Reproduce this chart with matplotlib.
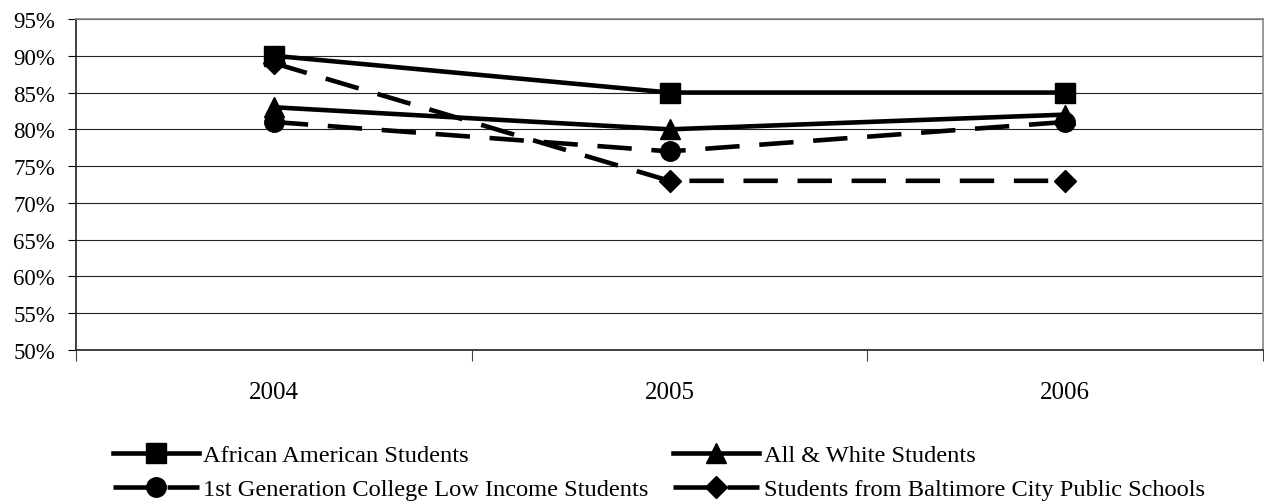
import numpy as np
import matplotlib.pyplot as plt
from matplotlib.ticker import FixedLocator, PercentFormatter

plt.rcParams['font.family'] = ['Liberation Serif', 'DejaVu Serif']

years = ["2004", "2005", "2006"]
african_american = [90, 85, 85]
all_white = [83, 80, 82]
first_gen = [81, 77, 81]
baltimore = [89, 73, 73]

x = np.arange(len(years))

fig = plt.figure(figsize=(12.64, 5.02), dpi=100)
ax = fig.add_axes([76 / 1264, 1 - 351 / 502, 1187 / 1264, 331 / 502])

dash = (0, (7.5, 4.3))
lw = 3.3
h1, = ax.plot(x, african_american, color='black', lw=lw, marker='s', ms=14,
              label="African American Students", zorder=5)
h2, = ax.plot(x, all_white, color='black', lw=lw, marker='^', ms=14,
              label="All & White Students", zorder=5)
h3, = ax.plot(x, first_gen, color='black', lw=lw, ls=dash, marker='o', ms=14,
              label="1st Generation College Low Income Students", zorder=5)
h4, = ax.plot(x, baltimore, color='black', lw=lw, ls=dash, marker='D', ms=11.5,
              label="Students from Baltimore City Public Schools", zorder=5)

ax.set_xlim(-0.5, 2.5)
ax.set_ylim(50, 95)
ax.set_yticks(np.arange(50, 96, 5))
ax.yaxis.set_major_formatter(PercentFormatter(decimals=0))
ax.set_xticks(x)
ax.set_xticklabels(years)
ax.xaxis.set_minor_locator(FixedLocator([-0.5, 0.5, 1.5, 2.5]))
ax.tick_params(axis='x', which='major', length=0, pad=22, labelsize=18)
ax.tick_params(axis='x', which='minor', length=8, width=0.8, color='#444444')
ax.tick_params(axis='y', length=6, width=0.8, pad=9, labelsize=16.5)
ax.grid(axis='y', color='#222222', lw=0.8)
ax.set_axisbelow(True)

for side in ['left', 'bottom']:
    ax.spines[side].set_color('#222222')
    ax.spines[side].set_linewidth(1.2)
for side in ['top', 'right']:
    ax.spines[side].set_color('#888888')
    ax.spines[side].set_linewidth(1.2)

fig.legend([h1, h3, h2, h4],
           [h1.get_label(), h3.get_label(), h2.get_label(), h4.get_label()],
           ncol=2, loc='upper left', bbox_to_anchor=(113 / 1264, 1 - 445 / 502),
           frameon=False, fontsize=17.6, handlelength=3.5, handletextpad=0.2,
           columnspacing=1.0, labelspacing=0.5, borderpad=0, borderaxespad=0)

fig.savefig("out.png", dpi=100)
